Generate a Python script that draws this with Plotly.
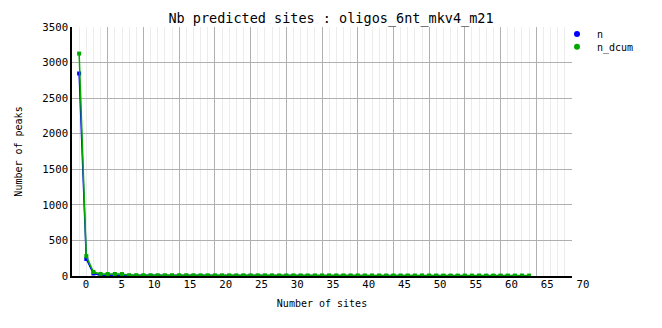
import plotly.graph_objects as go

# ---- data ----
sites_n = list(range(0, 63))
n = [2847, 240, 35, 12, 10, 10, 8, 2, 1, 1, 2, 1, 1, 1, 0, 1, 1, 0, 1, 0,
     1, 0, 0, 1, 0, 0, 1, 0, 0, 0, 1, 0, 0, 0, 0, 1, 0, 0, 0, 0,
     0, 1, 0, 0, 0, 0, 0, 0, 1, 0, 0, 0, 0, 0, 0, 0, 1, 0, 0, 0,
     0, 0, 1]
sites_dcum = list(range(0, 64))
n_dcum = [3127, 280, 56, 29, 28, 28, 27, 11, 11, 10, 10, 10, 10, 10, 10, 10, 10, 9, 9, 9,
          9, 9, 9, 9, 9, 9, 9, 9, 8, 8, 8, 8, 8, 8, 8, 8, 8, 8, 8, 8,
          7, 7, 7, 7, 7, 7, 7, 7, 7, 7, 7, 6, 6, 6, 6, 6, 6, 6, 6, 6,
          6, 6, 6, 6]
tick_labels = [0, 5, 10, 15, 20, 25, 30, 35, 40, 45, 50, 55, 60, 65, 70]
y_ticks = [0, 500, 1000, 1500, 2000, 2500, 3000, 3500]

FONT = "DejaVu Sans Mono"
BLUE = "#0000ff"
GREEN = "#00a800"

fig = go.Figure()
fig.add_trace(go.Scatter(x=sites_n, y=n, mode="lines+markers", name="n",
                         line=dict(color=BLUE, width=1.5),
                         marker=dict(symbol="square", size=4, color=BLUE),
                         showlegend=False))
fig.add_trace(go.Scatter(x=sites_dcum, y=n_dcum, mode="lines+markers", name="n_dcum",
                         line=dict(color=GREEN, width=1.5),
                         marker=dict(symbol="square", size=4, color=GREEN),
                         showlegend=False))
# legend entries (markers only)
fig.add_trace(go.Scatter(x=[None], y=[None], mode="markers", name="n",
                         marker=dict(symbol="circle", size=6, color=BLUE), legend="legend"))
fig.add_trace(go.Scatter(x=[None], y=[None], mode="markers", name="n_dcum",
                         marker=dict(symbol="circle", size=6, color=GREEN), legend="legend2"))
# host for the label axis
fig.add_trace(go.Scatter(x=[None], y=[None], xaxis="x2", yaxis="y2",
                         showlegend=False, hoverinfo="skip"))

W, H = 662, 328
L, R, T, B = 72, 62, 27, 52
plot_w = W - L - R
frac = 500 / plot_w

fig.update_layout(
    width=W, height=H,
    margin=dict(l=L, r=R, t=T, b=B),
    paper_bgcolor="white",
    plot_bgcolor="rgba(0,0,0,0)",
    font=dict(family=FONT, color="black", size=10),
    title=dict(text="Nb predicted sites : oligos_6nt_mkv4_m21",
               x=0.5, xanchor="center", y=1 - 18.5 / H, yanchor="middle",
               font=dict(family=FONT, size=13.5, color="black")),
    xaxis=dict(domain=[0, frac], range=[-1, 69.001],
               tickmode="linear", tick0=-1, dtick=5,
               showticklabels=False, ticks="",
               showgrid=True, gridcolor="#b0b0b0", gridwidth=1,
               minor=dict(tick0=-1, dtick=1, showgrid=True, gridcolor="#ececec", gridwidth=1),
               zeroline=False, showline=True, linecolor="black", linewidth=1.5,
               title=dict(text="Number of sites", standoff=23,
                          font=dict(family=FONT, size=10))),
    yaxis=dict(domain=[0, 1], range=[0, 3500.5],
               tickmode="array", tickvals=y_ticks, ticktext=[str(v) for v in y_ticks],
               ticks="", showgrid=True, gridcolor="#b0b0b0", gridwidth=1,
               zeroline=False, showline=True, linecolor="black", linewidth=1.5,
               tickfont=dict(family=FONT, size=10.7),
               title=dict(text="Number of peaks", standoff=18,
                          font=dict(family=FONT, size=10))),
    xaxis2=dict(domain=[0, 1], anchor="y2",
                range=[(72 - 82.85) / 7.145, (600 - 82.85) / 7.145],
                tickmode="array", tickvals=tick_labels,
                ticktext=[("\u00a0" + str(v)) if v < 10 else str(v) for v in tick_labels],
                ticks="", showgrid=False, zeroline=False, showline=False,
                tickfont=dict(family=FONT, size=10.7)),
    yaxis2=dict(domain=[0, 1], range=[0, 1], visible=False),
    legend=dict(x=(557 - L) / plot_w, y=1 - (34 - T) / (H - T - B), xanchor="left", yanchor="middle",
                bgcolor="rgba(0,0,0,0)", font=dict(family=FONT, size=10)),
    legend2=dict(x=(557 - L) / plot_w, y=1 - (46.7 - T) / (H - T - B), xanchor="left", yanchor="middle",
                 bgcolor="rgba(0,0,0,0)", font=dict(family=FONT, size=10)),
    showlegend=True,
)

fig.write_html("out.html")
